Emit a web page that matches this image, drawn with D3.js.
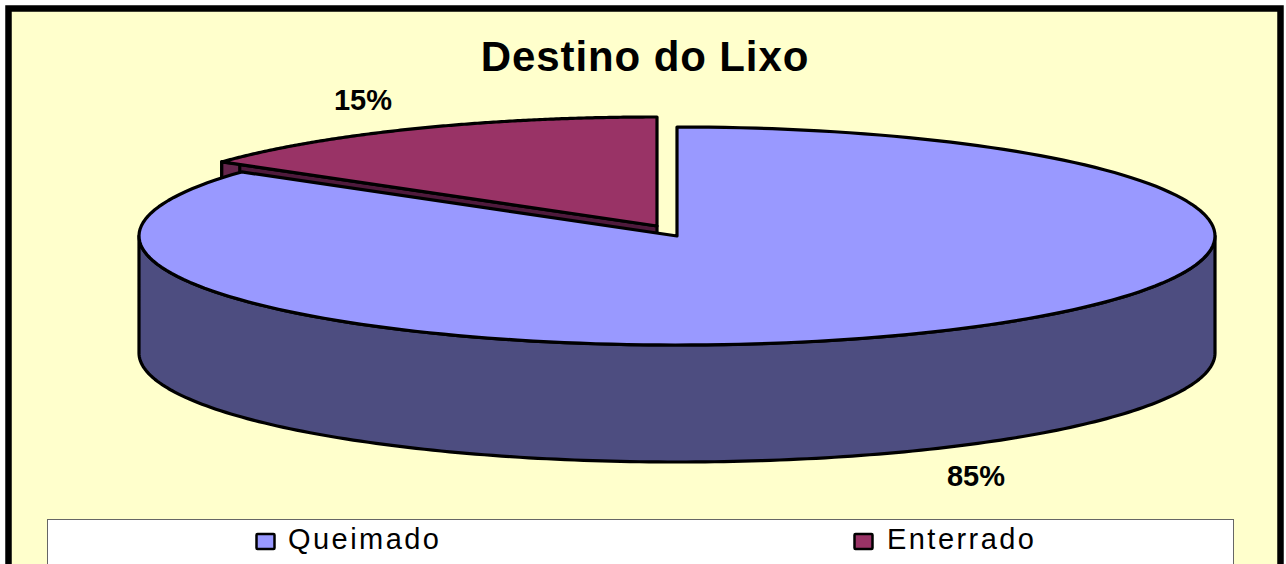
<!DOCTYPE html>
<html><head><meta charset="utf-8">
<script src="https://cdn.jsdelivr.net/npm/d3@7"></script>
<style>html,body{margin:0;padding:0;background:#fff;overflow:hidden}svg{display:block}text{font-family:"Liberation Sans",Arial,sans-serif;fill:#000}</style>
</head><body><svg id="c" width="1286" height="564"></svg>
<script>
const categories = ["Queimado", "Enterrado"];
const values = [85, 15];
const topColors = ["#9999ff", "#993366"];
const outerWallColors = ["#4d4d80", "#66264d"];
const innerWallColors = ["#4d4d80", "#4f1a3c"];
const titleText = "Destino do Lixo";

const svg = d3.select("#c");
svg.append("rect").attr("x",8.5).attr("y",8.5).attr("width",1272).attr("height",600)
  .attr("fill","#ffffcc").attr("stroke","#000").attr("stroke-width",6.5);

const rx = 538, ry = 109, depth = 117;
const centers = [{x:677,y:236},{x:657,y:226}];
const pie = d3.pie().sort(null).value(d=>d);
const arcs = pie(values);

const sx = d3.scaleLinear().domain([-1,1]).range([-rx,rx]);
const sy = d3.scaleLinear().domain([-1,1]).range([-ry,ry]);
const line = d3.line().curve(d3.curveLinear);
const pt = (c,a,dy=0)=>[c.x+sx(Math.sin(a)), c.y+sy(-Math.cos(a))+dy];
const arcPts = (c,a0,a1,dy=0)=>d3.range(0,181).map(i=>pt(c,a0+(a1-a0)*i/180,dy));

const stroke = {stroke:"#000","stroke-width":3.2,"stroke-linejoin":"round"};
function draw(d,fill){
  const p = svg.append("path").attr("d",d).attr("fill",fill);
  Object.entries(stroke).forEach(([k,v])=>p.attr(k,v));
  return p;
}
function drawSlice(i){
  const c = centers[i], a = arcs[i];
  const apex = [c.x,c.y];
  // inner wall along the radial edge that faces the viewer
  const rad = i===1 ? a.startAngle : a.endAngle;
  if(i===1){
    const tip = pt(c,rad);
    draw(line([apex,tip,[tip[0],tip[1]+depth],[apex[0],apex[1]+depth]])+"Z",innerWallColors[i]);
    const t0 = Math.max(a.startAngle,Math.PI/2), t1 = Math.min(a.endAngle,Math.PI*1.5);
    if(t1>t0){}
    // outer wall beside the tip
    const tipR = pt(c,a.startAngle);
    draw(line([[tipR[0],tipR[1]],[tipR[0],tipR[1]+depth],[tipR[0]+18,tipR[1]+depth],[tipR[0]+18,tipR[1]+2]])+"Z",outerWallColors[i]);
  } else {
    const t0 = Math.PI/2, t1 = Math.PI*1.5;
    const topEdge = arcPts(c,t0,t1), botEdge = arcPts(c,t0,t1,depth).reverse();
    draw(line(topEdge.concat(botEdge))+"Z",outerWallColors[i]);
  }
  const outer = arcPts(c,a.startAngle,a.endAngle);
  draw(line([apex].concat(outer))+"Z",topColors[i]);
}
drawSlice(1);
drawSlice(0);

// title and data labels
svg.append("text").attr("x",645).attr("y",71).attr("text-anchor","middle")
  .attr("font-size",42).attr("font-weight","bold").attr("letter-spacing",0.9).text(titleText);
const labelPos = [{x:976,y:486},{x:363,y:110}];
const total = d3.sum(values);
svg.selectAll(".lab").data(values).join("text").attr("class","lab")
  .attr("x",(d,i)=>labelPos[i].x).attr("y",(d,i)=>labelPos[i].y)
  .attr("text-anchor","middle").attr("font-size",29).attr("font-weight","bold")
  .text(d=>d3.format(".0%")(d/total));

// legend
svg.append("rect").attr("x",47.5).attr("y",519.5).attr("width",1186).attr("height",60)
  .attr("fill","#fff").attr("stroke","#666").attr("stroke-width",1);
const legendX = [255,853];
const g = svg.selectAll(".leg").data(categories).join("g").attr("class","leg")
  .attr("transform",(d,i)=>`translate(${legendX[i]},0)`);
g.append("rect").attr("x",1.5).attr("y",534).attr("width",18).attr("height",15)
  .attr("rx",1).attr("fill",(d,i)=>topColors[i]).attr("stroke","#000").attr("stroke-width",2.5);
g.append("text").attr("x",(d,i)=>i?34:33).attr("y",549).attr("font-size",29).attr("textLength",(d,i)=>i?147:151).text(d=>d);
</script></body></html>
